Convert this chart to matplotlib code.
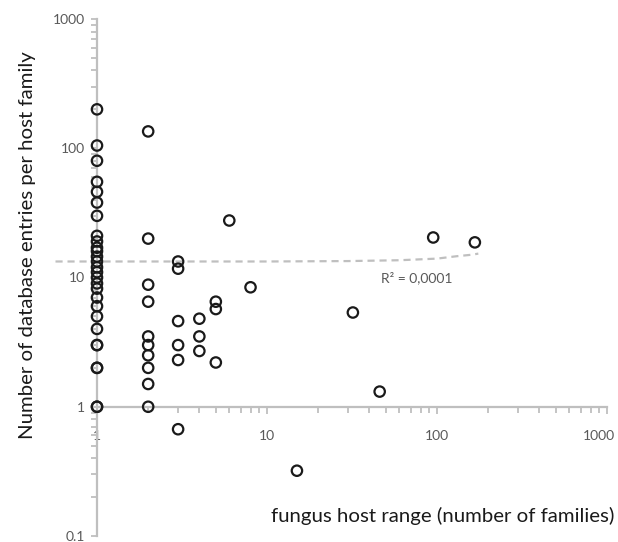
import matplotlib
matplotlib.use("Agg")
import matplotlib.pyplot as plt
from matplotlib.transforms import ScaledTranslation
from matplotlib.ticker import LogLocator, FixedLocator, FixedFormatter, NullFormatter

plt.rcParams['font.family'] = ['Lato', 'DejaVu Sans']

# fungus host range (number of families) for each point
host_range = [1]*28 + [2]*10 + [3]*6 + [4]*3 + [5]*3 + [6, 8, 15, 32, 46, 95, 167]
# number of database entries per host family
entries = [200, 105, 80, 55, 46, 38, 30, 21, 19, 17, 16, 14.5, 13.3, 12, 11, 10, 9, 8.2,
           7, 6, 5, 4, 3, 3, 2, 2, 1, 1,
           135, 20, 8.8, 6.5, 3.5, 3, 2.5, 2, 1.5, 1,
           13.3, 11.7, 4.6, 3, 2.3, 0.67,
           4.8, 3.5, 2.7,
           6.5, 5.7, 2.2,
           27.6, 8.4, 0.32, 5.36, 1.31, 20.4, 18.7]

# trend line (exponential fit)
trend_x = [0.57, 10, 30, 60, 100, 130, 160, 175]
trend_y = [13.3, 13.3, 13.4, 13.6, 14.0, 14.6, 15.0, 15.3]

x_ticks = [1, 10, 100, 1000]
x_tick_labels = ['1', '10', '100', '1000']
y_ticks = [0.1, 1, 10, 100, 1000]
y_tick_labels = ['0.1', '1', '10', '100', '1000']

fig = plt.figure(figsize=(6.18, 5.42), dpi=100)
ax = fig.add_axes([97/618, 1-536/542, 510/618, 517/542])
ax.set_xscale('log')
ax.set_yscale('log')
ax.set_xlim(1, 1000)
ax.set_ylim(0.1, 1000)

grey = '#bfbfbf'
ax.plot(trend_x, trend_y, ls=(0, (3.2, 2.2)), color=grey, lw=1.6, clip_on=False, zorder=1)
ax.scatter(host_range, entries, s=56, facecolors='none', edgecolors='#1a1a1a',
           linewidths=1.6, clip_on=False, zorder=3)

for s in ['top', 'right']:
    ax.spines[s].set_visible(False)
ax.spines['bottom'].set_position(('data', 1))
for s in ['bottom', 'left']:
    ax.spines[s].set_color(grey)
    ax.spines[s].set_linewidth(1.6)

ax.xaxis.set_major_locator(FixedLocator(x_ticks))
ax.xaxis.set_major_formatter(FixedFormatter(x_tick_labels))
ax.xaxis.set_minor_locator(LogLocator(base=10, subs=range(2, 10)))
ax.xaxis.set_minor_formatter(NullFormatter())
ax.yaxis.set_major_locator(FixedLocator(y_ticks))
ax.yaxis.set_major_formatter(FixedFormatter(y_tick_labels))
ax.yaxis.set_minor_locator(LogLocator(base=10, subs=range(2, 10)))
ax.yaxis.set_minor_formatter(NullFormatter())

ax.tick_params(which='both', color=grey, width=1.3, labelcolor='#595959', labelsize=10)
ax.tick_params(axis='x', which='major', length=5, pad=12)
ax.tick_params(axis='x', which='minor', length=4)
ax.tick_params(axis='y', which='major', length=4, pad=5)
ax.tick_params(axis='y', which='minor', length=4)

# shift the last x tick label slightly left so it stays inside the picture
last_tick = ax.xaxis.get_major_ticks()[-1]
last_tick.label1.set_transform(last_tick.label1.get_transform()
                               + ScaledTranslation(-8/100, 0, fig.dpi_scale_trans))

ax.text(47, 10, 'R² = 0,0001', color='#595959', fontsize=10, ha='left', va='center')

ax.set_xlabel('fungus host range (number of families)', fontsize=14.7, color='#1a1a1a')
ax.xaxis.set_label_coords(0.677, 0.056)
ax.set_ylabel('Number of database entries per host family', fontsize=14.7, color='#1a1a1a')
ax.yaxis.set_label_coords(-0.12, 0.563)

fig.savefig('out.png', dpi=100)
